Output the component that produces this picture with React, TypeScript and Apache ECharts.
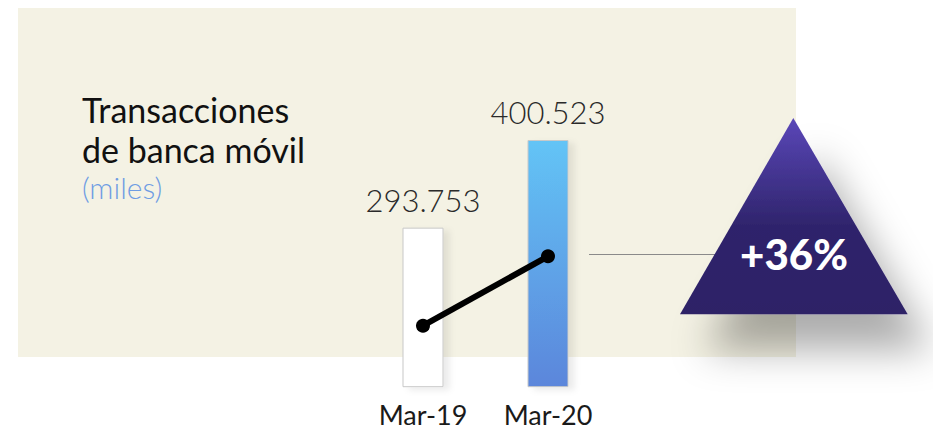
import React, { useEffect, useRef } from "react";
import * as echarts from "echarts";

const categories = ["Mar-19", "Mar-20"];
const values = [293.753, 400.523];
const valueLabels = ["293.753", "400.523"];
const titleLines = ["Transacciones", "de banca móvil"];
const unitText = "(miles)";
const changeText = "+36%";

export default function App() {
  const ref = useRef<HTMLDivElement>(null);
  useEffect(() => {
    const chart = echarts.init(ref.current!, null, { renderer: "svg" });
    const option: any = {
      animation: false,
      backgroundColor: "#ffffff",
      grid: { left: 360.5, right: 322.5, top: 58.3, bottom: 44.3, containLabel: false },
      xAxis: {
        type: "category",
        data: categories,
        axisLine: { show: false },
        axisTick: { show: false },
        axisLabel: {
          margin: 14,
          fontSize: 27,
          fontFamily: "Lato",
          color: "#1a1a1a",
        },
      },
      yAxis: [
        { type: "value", min: 100, max: 500, show: false },
        { type: "value", min: 200, max: 705, show: false },
      ],
      graphic: [
        {
          type: "rect",
          z: -10,
          shape: { x: 18, y: 8, width: 778, height: 349 },
          style: { fill: "#f4f2e4" },
          silent: true,
        },
        {
          type: "text",
          z: 5,
          x: 82,
          y: 109,
          style: {
            text: titleLines[0],
            font: "400 34px Lato",
            fill: "#111111",
            verticalAlign: "middle",
          },
        },
        {
          type: "text",
          z: 5,
          x: 82,
          y: 149,
          style: {
            text: titleLines[1],
            font: "400 34px Lato",
            fill: "#111111",
            verticalAlign: "middle",
          },
        },
        {
          type: "text",
          z: 5,
          x: 82,
          y: 187,
          style: {
            text: unitText,
            font: "300 30px Lato",
            fill: "#6f9de3",
            verticalAlign: "middle",
          },
        },
        {
          type: "line",
          z: 5,
          shape: { x1: 589, y1: 254.5, x2: 720, y2: 254.5 },
          style: { stroke: "#8a8a8a", lineWidth: 1.2 },
        },
        {
          type: "polygon",
          z: 20,
          shape: {
            points: [
              [793.3, 118],
              [680, 314.3],
              [907.7, 314.3],
            ],
          },
          style: {
            fill: new echarts.graphic.LinearGradient(0, 0, 0, 1, [
              { offset: 0, color: "#5a47b8" },
              { offset: 0.55, color: "#2f246c" },
              { offset: 1, color: "#2d2266" },
            ]),
            shadowBlur: 38,
            shadowColor: "rgba(0,0,0,0.32)",
            shadowOffsetX: 24,
            shadowOffsetY: 36,
          },
        },
        {
          type: "text",
          z: 21,
          x: 794,
          y: 254,
          style: {
            text: changeText,
            font: "900 42px Lato",
            fill: "#ffffff",
            align: "center",
            verticalAlign: "middle",
          },
        },
      ],
      series: [
        {
          type: "bar",
          barWidth: 41,
          yAxisIndex: 0,
          z: 2,
          data: values.map((v, i) =>
            i === 0
              ? {
                  value: v,
                  itemStyle: {
                    color: "#ffffff",
                    borderColor: "#c8c8c8",
                    borderWidth: 1,
                    shadowBlur: 6,
                    shadowColor: "rgba(0,0,0,0.08)",
                    shadowOffsetX: 6,
                    shadowOffsetY: 3,
                  },
                }
              : {
                  value: v,
                  itemStyle: {
                    color: new echarts.graphic.LinearGradient(0, 0, 0, 1, [
                      { offset: 0, color: "#63c4f6" },
                      { offset: 1, color: "#5b86db" },
                    ]),
                    borderColor: "#c9c9c9",
                    borderWidth: 1,
                    shadowBlur: 6,
                    shadowColor: "rgba(0,0,0,0.08)",
                    shadowOffsetX: 6,
                    shadowOffsetY: 3,
                  },
                }
          ),
          label: {
            show: true,
            position: "top",
            distance: 12,
            fontSize: 31,
            fontFamily: "Lato",
            fontWeight: 300,
            color: "#2a2a2a",
            formatter: (p: any) => valueLabels[p.dataIndex],
          },
        },
        {
          type: "line",
          yAxisIndex: 1,
          z: 5,
          data: values,
          symbol: "circle",
          symbolSize: 14,
          lineStyle: { color: "#000000", width: 6 },
          itemStyle: { color: "#000000" },
          label: { show: false },
        },
      ],
    };
    chart.setOption(option);
    return () => chart.dispose();
  }, []);
  return (
    <div
      ref={ref}
      style={{ position: "fixed", left: 0, top: 0, width: 933, height: 431 }}
    />
  );
}
